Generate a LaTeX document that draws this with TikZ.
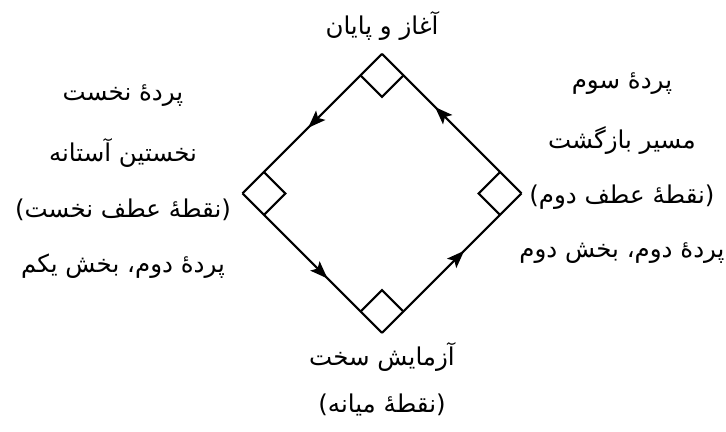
\documentclass[tikz,border=0pt]{standalone}
\usepackage{fontspec}
\newfontfamily\farsi[Script=Arabic]{DejaVu Sans}
\TeXXeTstate=1
\usetikzlibrary{arrows.meta, decorations.markings}
\newcommand{\fa}[1]{{\farsi\fontsize{15}{18}\selectfont\beginR #1\endR}}

\begin{document}
\begin{tikzpicture}[>=Stealth, line width=1.3pt,
    lbl/.style={inner sep=1pt},
    arrowat/.style={postaction={decorate, decoration={markings,
      mark=at position #1 with {\arrow{Stealth[length=0.38cm,width=0.28cm,inset=0.08cm]}}}}}]
  \useasboundingbox (-8.215,-5.129) rectangle (7.398,4.161);
  % corners of the cycle
  \coordinate (top) at (0,3);
  \coordinate (lft) at (-3,0);
  \coordinate (bot) at (0,-3);
  \coordinate (rgt) at (3,0);
  % the four sides
  \draw[arrowat=0.53] (top) -- (lft);
  \draw[arrowat=0.61] (lft) -- (bot);
  \draw[arrowat=0.59] (bot) -- (rgt);
  \draw[arrowat=0.62] (rgt) -- (top);
  % right-angle marks
  \draw (top) ++(-0.46,-0.46) -- ++(0.46,-0.46) -- ++(0.46,0.46);
  \draw (lft) ++(0.46,0.46) -- ++(0.46,-0.46) -- ++(-0.46,-0.46);
  \draw (bot) ++(-0.46,0.46) -- ++(0.46,0.46) -- ++(0.46,-0.46);
  \draw (rgt) ++(-0.46,0.46) -- ++(-0.46,-0.46) -- ++(0.46,-0.46);
  % labels
  \node[lbl] (start) at (0,3.6) {\fa{آغاز و پایان}};
  \node[lbl] (ordeal) at (0,-3.52) {\fa{آزمایش سخت}};
  \node[lbl] (midpt) at (0,-4.55) {\fa{(نقطهٔ میانه)}};
  \node[lbl] (act1) at (-5.57,2.1) {\fa{پردهٔ نخست}};
  \node[lbl] (thresh) at (-5.57,0.88) {\fa{نخستین آستانه}};
  \node[lbl] (turn1) at (-5.57,-0.35) {\fa{(نقطهٔ عطف نخست)}};
  \node[lbl] (act2a) at (-5.57,-1.56) {\fa{پردهٔ دوم، بخش یکم}};
  \node[lbl] (act3) at (5.16,2.36) {\fa{پردهٔ سوم}};
  \node[lbl] (back) at (5.16,1.14) {\fa{مسیر بازگشت}};
  \node[lbl] (turn2) at (5.16,-0.08) {\fa{(نقطهٔ عطف دوم)}};
  \node[lbl] (act2b) at (5.16,-1.28) {\fa{پردهٔ دوم، بخش دوم}};
\end{tikzpicture}
\end{document}
